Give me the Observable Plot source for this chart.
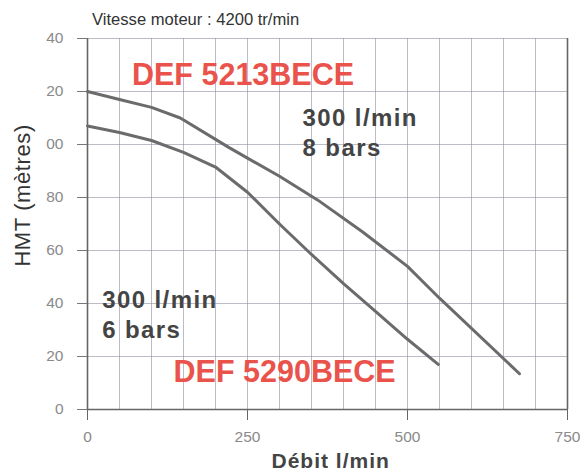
<!DOCTYPE html>
<html>
<head>
<meta charset="utf-8">
<script src="https://cdn.jsdelivr.net/npm/d3@7"></script>
<script src="https://cdn.jsdelivr.net/npm/@observablehq/plot@0.6"></script>
<style>
  body { margin: 0; background: #fff; font-family: "Liberation Sans", Arial, sans-serif; }
  #wrap { position: relative; width: 580px; height: 472px; }
  #title { position: absolute; left: 92px; top: 10px; font-size: 16.6px; color: #333; white-space: nowrap; }
</style>
</head>
<body>
<div id="wrap">
  <div id="title">Vitesse moteur : 4200 tr/min</div>
  <div id="chart"></div>
</div>
<script>
// Curve DEF 5213BECE (8 bars)
const upperFlow = [0, 50, 100, 145, 220, 300, 360, 430, 500, 550, 675];
const upperHead = [120, 117, 114, 110, 99, 88, 79, 67, 54, 42, 13.5];
// Curve DEF 5290BECE (6 bars)
const lowerFlow = [0, 50, 100, 150, 200, 250, 300, 350, 400, 450, 500, 548];
const lowerHead = [107, 104.5, 101.5, 97, 91.5, 82, 70, 58.5, 47.5, 37, 26.5, 17];

const xTicks = [0, 250, 500, 750];
const xGrid = [0, 50, 100, 150, 200, 250, 300, 350, 400, 450, 500, 550, 600, 650, 700, 750];
const yTicks = [0, 20, 40, 60, 80, 100, 120, 140];
const yTickLabels = ["0", "20", "40", "60", "80", "00", "20", "40"];

const modelLabels = ["DEF 5213BECE", "DEF 5290BECE"];
const modelX = [243, 308];
const modelY = [122.3, 10.2];
const rateLabels = ["300 l/min\n8 bars", "300 l/min\n6 bars"];
const rateX = [336, 23];
const rateY = [95.8, 26.8];

const xTitle = "Débit l/min";
const yTitle = "HMT (mètres)";

const upper = upperFlow.map((x, i) => ({x, y: upperHead[i]}));
const lower = lowerFlow.map((x, i) => ({x, y: lowerHead[i]}));
const models = modelLabels.map((t, i) => ({t, x: modelX[i], y: modelY[i]}));
const rates = rateLabels.map((t, i) => ({t, x: rateX[i], y: rateY[i]}));

const chart = Plot.plot({
  width: 580,
  height: 472,
  marginTop: 38,
  marginBottom: 63,
  marginLeft: 87,
  marginRight: 13,
  style: {fontFamily: "Liberation Sans, Arial, sans-serif", background: "transparent"},
  x: {domain: [0, 750]},
  y: {domain: [0, 140]},
  marks: [
    Plot.gridX(xGrid, {stroke: "#8f8fa3", strokeOpacity: 0.6}),
    Plot.gridY(yTicks, {stroke: "#8f8fa3", strokeOpacity: 0.6}),
    Plot.ruleX([0, 750], {stroke: "#666", strokeWidth: 1.6}),
    Plot.ruleY([0], {stroke: "#666", strokeWidth: 1.6}),
    Plot.axisX({ticks: xTicks, tickSize: 11, tickPadding: 10, fontSize: 15.5, color: "#8a8a8a", stroke: "#666", label: null, tickFormat: d => String(d)}),
    Plot.axisY({ticks: yTicks, tickSize: 10, tickPadding: 14, fontSize: 15.5, color: "#8a8a8a", stroke: "#777", label: null, tickFormat: d => yTickLabels[yTicks.indexOf(d)]}),
    Plot.line(upper, {x: "x", y: "y", stroke: "#6b6b6b", strokeWidth: 3, curve: "linear"}),
    Plot.line(lower, {x: "x", y: "y", stroke: "#6b6b6b", strokeWidth: 3, curve: "linear"}),
    Plot.text(models, {x: "x", y: "y", text: "t", fill: "#e9534b", fontSize: 30.5, fontWeight: "bold", textAnchor: "middle", lineAnchor: "bottom"}),
    Plot.text(rates, {x: "x", y: "y", text: "t", fill: "#444", fontSize: 24, fontWeight: "bold", textAnchor: "start", lineAnchor: "bottom", lineHeight: 1.25}),
    Plot.text([xTitle], {x: [380], y: [-19.6], text: d => d, fill: "#444", fontSize: 21, fontWeight: "bold", lineAnchor: "middle"}),
    Plot.text([yTitle], {x: [-101], y: [80.8], rotate: -90, text: d => d, fill: "#333", fontSize: 22, lineAnchor: "middle"})
  ]
});
d3.select(chart).selectAll("text").each(function () {
  const t = this.textContent;
  if (t.startsWith("300")) this.style.letterSpacing = "1.4px";
  else if (t === xTitle) this.style.letterSpacing = "1px";
  else if (t === yTitle) this.style.letterSpacing = "0.6px";
});
document.getElementById("chart").appendChild(chart);
</script>
</body>
</html>
